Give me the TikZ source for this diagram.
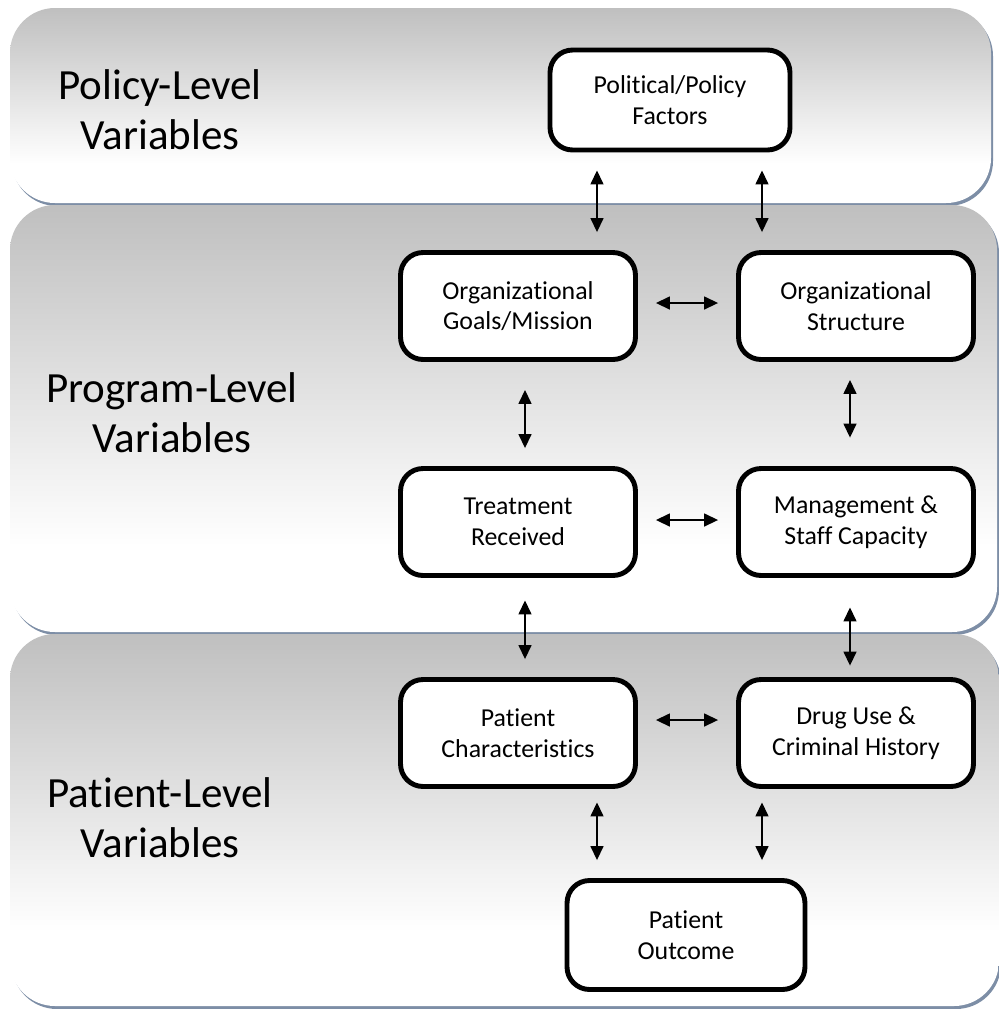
\documentclass[tikz,border=0pt]{standalone}
\usepackage{fontspec}
\setmainfont[RawFeature=-liga]{Carlito}
\usetikzlibrary{arrows.meta}

\definecolor{shadowblue}{RGB}{125,142,166}

% gray at the top, white over the lowest fifth
\pgfdeclareverticalshading{levelfade}{100bp}{color(0bp)=(white); color(35bp)=(white);
	color(75bp)=(gray!50); color(100bp)=(gray!50)}

\tikzset{
	box/.style={draw=black, line width=2.8pt, rounded corners=0.45cm, fill=white,
		minimum width=4.7cm, minimum height=2.14cm, inner sep=0pt, align=center,
		font=\fontsize{14.7}{17.5}\selectfont},
	level/.style={align=center, font=\fontsize{24.5}{28.5}\selectfont},
	link/.style={{Triangle[length=0.28cm,width=0.26cm]}-{Triangle[length=0.28cm,width=0.26cm]},
		line width=0.85pt, shorten <=0.36cm, shorten >=0.36cm},
}

\begin{document}
\begin{tikzpicture}[x=0.02cm, y=-0.02cm]
\useasboundingbox (0,0) rectangle (999,1009);

% the three levels
\foreach \xa/\ya/\xb/\yb in {10/8/991/203, 10/205/997/632, 10/634/999/1006} {
	\fill[shadowblue, rounded corners=0.9cm] (\xa+2,\ya+3) rectangle (\xb+2,\yb+3);
	\shade[shading=levelfade, rounded corners=0.9cm] (\xa,\ya) rectangle (\xb,\yb);
}

\node[level] (policylevel) at (160,110) {Policy-Level\\Variables};
\node[level] (programlevel) at (172,413) {Program-Level\\Variables};
\node[level] (patientlevel) at (160,818) {Patient-Level\\Variables};

\node[box, minimum width=4.8cm, minimum height=2.0cm] (policy) at (670,100) {Political/Policy\\Factors};
\node[box] (goals) at (518,306) {Organizational\\Goals/Mission};
\node[box] (structure) at (856,306) {Organizational\\Structure};
\node[box] (treatment) at (518,522) {Treatment\\Received};
\node[box] (staff) at (856,522) {Management \&\\Staff Capacity};
\node[box] (patient) at (518,733) {Patient\\Characteristics};
\node[box] (history) at (856,733) {Drug Use \&\\Criminal History};
\node[box, minimum width=4.76cm, minimum height=2.18cm] (outcome) at (686,935) {Patient\\Outcome};

% columns and rows the arrows run along
\coordinate (colA) at (597,0);
\coordinate (colB) at (525,0);
\coordinate (colC) at (762,0);
\coordinate (colD) at (850,0);
\coordinate (rowA) at (0,303);
\coordinate (rowB) at (0,520);
\coordinate (rowC) at (0,720);

\draw[link] (policy.south -| colA) -- (goals.north -| colA);
\draw[link] (policy.south -| colC) -- (structure.north -| colC);
\draw[link] (goals.east |- rowA) -- (structure.west |- rowA);
\draw[link, shorten <=0.56cm] (goals.south -| colB) -- (treatment.north -| colB);
\draw[link, shorten >=0.57cm] (structure.south -| colD) -- (staff.north -| colD);
\draw[link] (treatment.east |- rowB) -- (staff.west |- rowB);
\draw[link, shorten <=0.45cm] (treatment.south -| colB) -- (patient.north -| colB);
\draw[link, shorten <=0.59cm, shorten >=0.23cm] (staff.south -| colD) -- (history.north -| colD);
\draw[link] (patient.east |- rowC) -- (history.west |- rowC);
\draw[link, shorten <=0.27cm] (patient.south -| colA) -- (outcome.north -| colA);
\draw[link, shorten <=0.27cm] (history.south -| colC) -- (outcome.north -| colC);

\end{tikzpicture}
\end{document}
